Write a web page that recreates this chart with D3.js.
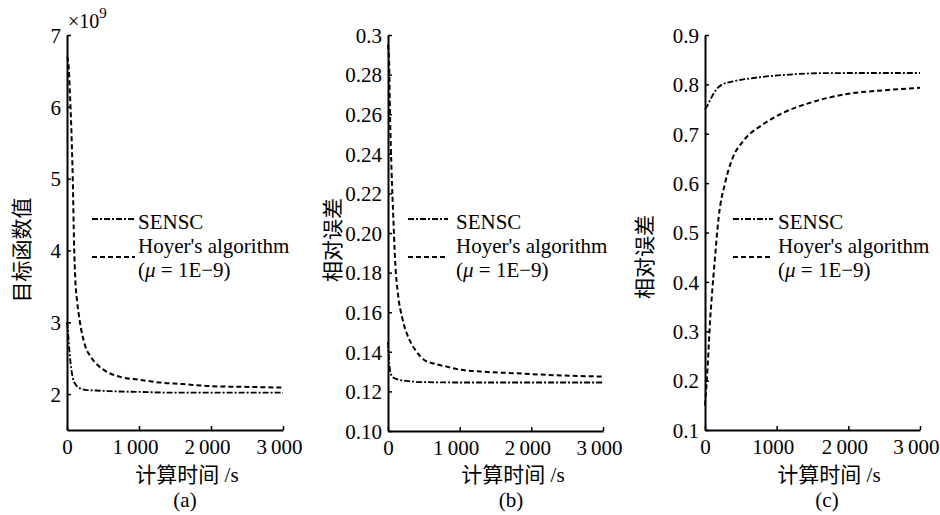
<!DOCTYPE html>
<html>
<head>
<meta charset="utf-8">
<script src="https://cdn.jsdelivr.net/npm/d3@7"></script>
<style>
body { margin: 0; background: #fff; }
svg text { font-family: "Liberation Serif", "Times New Roman", "Noto Sans CJK SC", serif; fill: #000; }
</style>
</head>
<body>
<div id="chart"></div>
<script>
"use strict"

const WIDTH = 940;
const HEIGHT = 515;
const FONT_SIZE = 21;
const TICK_LEN = 4;
const DASHED = "5,3";
const DASH_DOT = "6,2,2,2";

// x ticks, shared by the three panels
const X_TICKS = [0, 1000, 2000, 3000];
const X_LABELS = ["0", "1\u2009000", "2\u2009000", "3\u2009000"];
const X_LABELS_C = ["0", "1000", "2\u2009000", "3\u2009000"];

const Y_TICKS_A = [2, 3, 4, 5, 6, 7];
const Y_LABELS_A = ["2", "3", "4", "5", "6", "7"];
const Y_TICKS_B = [0.10, 0.12, 0.14, 0.16, 0.18, 0.20, 0.22, 0.24, 0.26, 0.28, 0.30];
const Y_LABELS_B = ["0.10", "0.12", "0.14", "0.16", "0.18", "0.20", "0.22", "0.24", "0.26", "0.28", "0.3"];
const Y_TICKS_C = [0.1, 0.2, 0.3, 0.4, 0.5, 0.6, 0.7, 0.8, 0.9];
const Y_LABELS_C = ["0.1", "0.2", "0.3", "0.4", "0.5", "0.6", "0.7", "0.8", "0.9"];

const SERIES_NAMES = ["SENSC", "Hoyer's algorithm"];

// [time (s), value]
const sensc_a = [[0, 3.0], [15, 2.85], [30, 2.65], [50, 2.43], [70, 2.28], [90, 2.19], [130, 2.12],
	[180, 2.08], [250, 2.06], [400, 2.05], [600, 2.04], [1000, 2.03], [1500, 2.02], [2000, 2.02], [3000, 2.02]];
const hoyer_a = [[0, 6.7], [20, 6.6], [40, 6.2], [60, 5.7], [80, 5.0], [98, 4.1], [115, 3.6], [140, 3.3],
	[180, 3.0], [250, 2.68], [330, 2.52], [420, 2.41], [520, 2.33], [740, 2.24], [1000, 2.2], [1300, 2.16],
	[1600, 2.14], [2000, 2.11], [2500, 2.1], [3000, 2.09]];

const sensc_b = [[0, 0.145], [10, 0.138], [28, 0.131], [50, 0.128], [98, 0.1265], [250, 0.1253],
	[500, 0.1247], [1000, 0.1245], [2000, 0.1245], [3000, 0.1245]];
const hoyer_b = [[0, 0.295], [15, 0.287], [28, 0.26], [50, 0.231], [74, 0.208], [98, 0.187], [140, 0.169],
	[200, 0.157], [300, 0.146], [400, 0.14], [500, 0.136], [650, 0.134], [820, 0.1325], [1000, 0.131],
	[1300, 0.130], [1750, 0.1292], [2450, 0.128], [3000, 0.1275]];

const sensc_c = [[0, 0.75], [30, 0.756], [70, 0.768], [140, 0.786], [230, 0.799], [390, 0.806], [630, 0.812],
	[850, 0.816], [1100, 0.819], [1550, 0.8225], [2000, 0.823], [3000, 0.823]];
const hoyer_c = [[0, 0.15], [20, 0.19], [45, 0.25], [70, 0.32], [95, 0.37], [140, 0.45], [190, 0.53],
	[280, 0.60], [370, 0.645], [550, 0.688], [800, 0.718], [1070, 0.741], [1450, 0.762], [2000, 0.781],
	[2500, 0.788], [3000, 0.793]];


class panel_chart
{
	constructor(svg, opt)
	{
		this.svg = svg;
		this.opt = opt;
		this.x = d3.scaleLinear().domain([0, 3000]).range([opt.left, opt.right]);
		this.y = d3.scaleLinear().domain(opt.yDomain).range([opt.bottom, opt.top]);
	}

	add_axes()
	{
		var o = this.opt;
		var xAxis = d3.axisBottom(this.x)
			.tickValues(X_TICKS)
			.tickFormat(function(d, i) { return o.xLabels[i]; })
			.tickSizeInner(-TICK_LEN)
			.tickSizeOuter(0)
			.tickPadding(9);
		var yAxis = d3.axisLeft(this.y)
			.tickValues(o.yTicks)
			.tickFormat(function(d, i) { return o.yLabels[i]; })
			.tickSizeInner(-TICK_LEN)
			.tickSizeOuter(0)
			.tickPadding(6);

		var gx = this.svg.append("g")
			.attr("transform", "translate(0," + o.bottom + ")")
			.call(xAxis);
		var gy = this.svg.append("g")
			.attr("transform", "translate(" + o.left + ",0)")
			.call(yAxis);

		[gx, gy].forEach(function(g) {
			g.attr("font-family", null).attr("font-size", FONT_SIZE);
			g.select(".domain").attr("stroke", "#000").attr("stroke-width", 2);
			g.selectAll(".tick line").attr("stroke", "#000").attr("stroke-width", 1.5);
			g.selectAll(".tick text").attr("fill", "#000");
		});
		gy.selectAll(".tick text").attr("dy", "0.35em");
		gx.selectAll(".tick text")
			.attr("dy", "0.71em")
			.attr("dx", function(d, i) { return i == 0 ? 0 : -4; });
		// last label of the right panel touches the page edge
		if (o.right + 23 > WIDTH) {
			gx.selectAll(".tick text")
				.filter(function(d) { return d == 3000; })
				.attr("text-anchor", "end")
				.attr("dx", WIDTH - 1 - o.right);
		}

		// axis titles
		this.svg.append("text")
			.attr("transform", "translate(" + o.yTitleX + "," + o.yTitleY + ") rotate(-90)")
			.attr("text-anchor", "middle")
			.attr("dy", "0.35em")
			.attr("font-size", FONT_SIZE)
			.text(o.yTitle);

		this.svg.append("text")
			.attr("x", o.xTitleX)
			.attr("y", 482)
			.attr("text-anchor", "middle")
			.attr("font-size", FONT_SIZE)
			.text("计算时间 /s");

		this.svg.append("text")
			.attr("x", o.xTitleX - 2)
			.attr("y", 507)
			.attr("text-anchor", "middle")
			.attr("font-size", FONT_SIZE)
			.text(o.tag);
	}

	add_lines()
	{
		var x = this.x, y = this.y;
		var line = d3.line()
			.x(function(d) { return x(d[0]); })
			.y(function(d) { return y(d[1]); })
			.curve(d3.curveMonotoneX);

		this.svg.append("path")
			.datum(this.opt.hoyer)
			.attr("d", line)
			.attr("fill", "none")
			.attr("stroke", "#000")
			.attr("stroke-width", 2)
			.attr("stroke-dasharray", DASHED);

		this.svg.append("path")
			.datum(this.opt.sensc)
			.attr("d", line)
			.attr("fill", "none")
			.attr("stroke", "#000")
			.attr("stroke-width", 1.8)
			.attr("stroke-dasharray", DASH_DOT);
	}

	add_legend()
	{
		var o = this.opt;
		var g = this.svg.append("g");

		g.append("line")
			.attr("x1", o.legX0).attr("x2", o.legX1)
			.attr("y1", 219).attr("y2", 219)
			.attr("stroke", "#000").attr("stroke-width", 1.8)
			.attr("stroke-dasharray", DASH_DOT);
		g.append("line")
			.attr("x1", o.legX0).attr("x2", o.legX1)
			.attr("y1", 257).attr("y2", 257)
			.attr("stroke", "#000").attr("stroke-width", 2)
			.attr("stroke-dasharray", DASHED);

		g.append("text")
			.attr("x", o.legText).attr("y", 229)
			.attr("font-size", FONT_SIZE)
			.text(SERIES_NAMES[0]);
		g.append("text")
			.attr("x", o.legText).attr("y", 253)
			.attr("font-size", FONT_SIZE)
			.text(SERIES_NAMES[1]);

		var t = g.append("text")
			.attr("x", o.legText).attr("y", 277)
			.attr("font-size", FONT_SIZE);
		t.append("tspan").text("(");
		t.append("tspan").attr("font-style", "italic").text("\u03bc");
		t.append("tspan").text(" = 1E\u22129)");
	}
}

var svg = d3.select("#chart")
	.append("svg")
	.attr("width", WIDTH)
	.attr("height", HEIGHT);

var panels = [
	{ left: 67, right: 283, top: 35, bottom: 430, yDomain: [1.5, 7],
	  yTicks: Y_TICKS_A, yLabels: Y_LABELS_A, xLabels: X_LABELS,
	  sensc: sensc_a, hoyer: hoyer_a, yTitle: "目标函数值", yTitleX: 22, yTitleY: 250,
	  xTitleX: 187, tag: "(a)", legX0: 92, legX1: 135, legText: 138 },
	{ left: 388, right: 603, top: 35, bottom: 431, yDomain: [0.10, 0.30],
	  yTicks: Y_TICKS_B, yLabels: Y_LABELS_B, xLabels: X_LABELS,
	  sensc: sensc_b, hoyer: hoyer_b, yTitle: "相对误差", yTitleX: 333, yTitleY: 240,
	  xTitleX: 513, tag: "(b)", legX0: 408, legX1: 448, legText: 456 },
	{ left: 705, right: 920, top: 35, bottom: 430, yDomain: [0.1, 0.9],
	  yTicks: Y_TICKS_C, yLabels: Y_LABELS_C, xLabels: X_LABELS_C,
	  sensc: sensc_c, hoyer: hoyer_c, yTitle: "相对误差", yTitleX: 645, yTitleY: 257,
	  xTitleX: 829, tag: "(c)", legX0: 733, legX1: 773, legText: 778 }
];

panels.forEach(function(p) {
	var chart = new panel_chart(svg, p);
	chart.add_lines();
	chart.add_axes();
	chart.add_legend();
});

// exponent note above panel (a)
var expo = svg.append("text")
	.attr("x", 68)
	.attr("y", 28)
	.attr("font-size", 20)
	.text("\u00d710");
expo.append("tspan")
	.attr("dy", -10)
	.attr("font-size", 15)
	.text("9");
</script>
</body>
</html>
